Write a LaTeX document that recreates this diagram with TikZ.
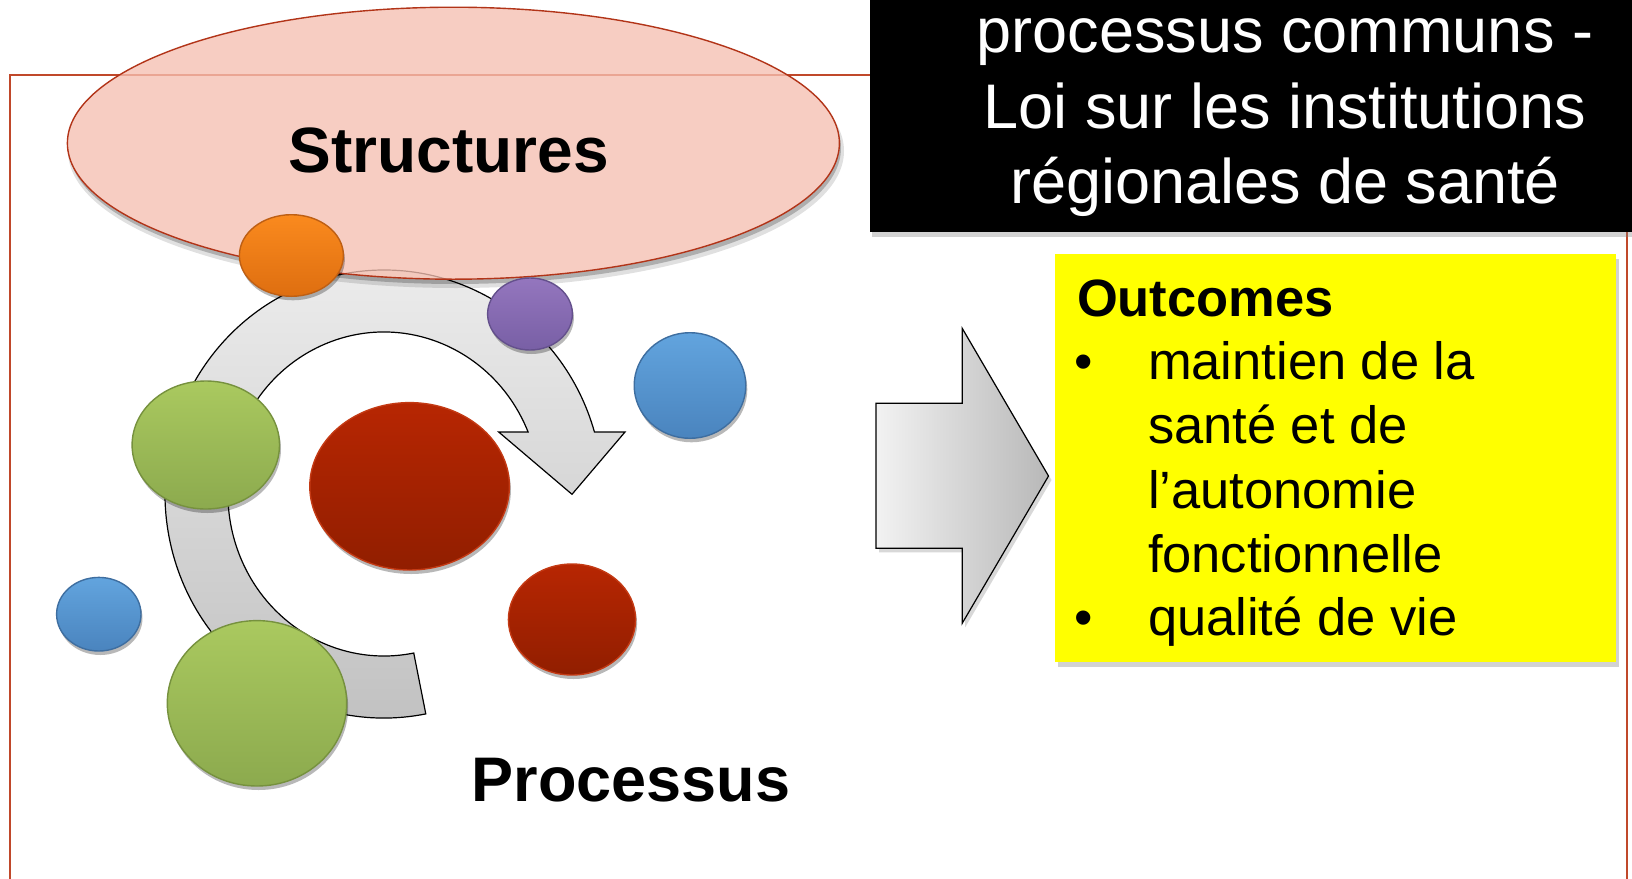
\documentclass[tikz,border=0pt]{standalone}
\usepackage{fontspec}
\setmainfont{Liberation Sans}
\usetikzlibrary{shadows}

\definecolor{frameRed}{RGB}{192,72,42}
\definecolor{ovalFill}{RGB}{246,192,177}
\definecolor{ovalLine}{RGB}{178,52,24}
\definecolor{ringTop}{RGB}{237,237,237}
\definecolor{ringBot}{RGB}{192,192,192}
\definecolor{arrLeft}{RGB}{242,242,242}
\definecolor{arrRight}{RGB}{184,184,184}
\definecolor{greenTop}{RGB}{170,201,95}
\definecolor{greenBot}{RGB}{140,170,78}
\definecolor{greenLine}{RGB}{118,145,62}
\definecolor{redTop}{RGB}{183,38,2}
\definecolor{redBot}{RGB}{145,30,0}
\definecolor{redLine}{RGB}{196,58,20}
\definecolor{blueTop}{RGB}{98,164,222}
\definecolor{blueBot}{RGB}{74,132,190}
\definecolor{blueLine}{RGB}{62,110,160}
\definecolor{orangeTop}{RGB}{250,138,30}
\definecolor{orangeBot}{RGB}{222,110,16}
\definecolor{orangeLine}{RGB}{190,95,20}
\definecolor{purpleTop}{RGB}{148,118,190}
\definecolor{purpleBot}{RGB}{120,95,165}
\definecolor{purpleLine}{RGB}{100,80,140}
\definecolor{boxYellow}{RGB}{255,255,0}

\newcommand\szf[2]{\fontsize{#1}{#2}\selectfont}

\begin{document}
\begin{tikzpicture}[x=1pt,y=1pt,
  every node/.style={inner sep=0pt,outer sep=0pt},
  softshadow/.style={drop shadow={shadow xshift=1.5pt,shadow yshift=-4pt,opacity=.28,fill=black}},
  bubble/.style={softshadow,line width=1.4pt},
  greenball/.style={bubble,top color=greenTop,bottom color=greenBot,draw=greenLine},
  redball/.style={bubble,top color=redTop,bottom color=redBot,draw=redLine},
  blueball/.style={bubble,top color=blueTop,bottom color=blueBot,draw=blueLine},
  orangeball/.style={bubble,top color=orangeTop,bottom color=orangeBot,draw=orangeLine},
  purpleball/.style={bubble,top color=purpleTop,bottom color=purpleBot,draw=purpleLine},
  headtxt/.style={anchor=base,text=white,font=\szf{63}{75}},
  itemtxt/.style={anchor=base west,font=\szf{52.5}{64}},
  bullettxt/.style={anchor=base,font=\szf{52.5}{64}},
  biglabel/.style={anchor=base,font=\bfseries\szf{64}{75}}]

\clip (0,0) rectangle (1632,-878);
\fill[white] (0,0) rectangle (1632,-878);

% outer frame
\draw[frameRed,line width=1.8pt] (10,-1000) -- (10,-75) -- (1627,-75) -- (1627,-1000);

% circular process arrow
\shade[top color=ringTop,bottom color=ringBot,draw=black,line width=1.2pt]
  (425.8,-713.9) arc[start angle=281,end angle=16.07,x radius=219,y radius=224]
  -- (625,-432) -- (572,-494.3) -- (498.7,-432) -- (528.1,-432)
  arc[start angle=22.5,end angle=281,x radius=156,y radius=162] -- cycle;

% structures oval: its shadow only outside the oval, then a translucent fill
\begin{scope}[even odd rule]
  \clip (0,0) rectangle (1632,-878)
    (453.4,-143.2) ellipse[x radius=386,y radius=136];
  \fill[black,opacity=.22] (455,-148) ellipse[x radius=386,y radius=136];
  \fill[black,opacity=.12] (456,-151) ellipse[x radius=388,y radius=137];
\end{scope}
\path[fill=ovalFill,fill opacity=.78,draw=ovalLine,line width=1.4pt]
  (453.4,-143.2) ellipse[x radius=386,y radius=136];

% bubbles
\path[greenball]  (205.8,-445)   ellipse[x radius=73.7,y radius=64];
\path[redball]    (409.6,-486.3) ellipse[x radius=99.8,y radius=83.7];
\path[redball]    (572,-619.5)   ellipse[x radius=63.6,y radius=55.5];
\path[blueball]   (98.8,-614.2)  ellipse[x radius=42.2,y radius=36.8];
\path[greenball]  (257,-703.3)   ellipse[x radius=89.7,y radius=82.7];
\path[orangeball] (291.4,-255.5) ellipse[x radius=52,y radius=40.8];
\path[purpleball] (530,-314)     ellipse[x radius=42.4,y radius=36];
\path[blueball]   (690,-385.5)   ellipse[x radius=55.8,y radius=52.8];

% title box
\fill[black,drop shadow={shadow xshift=2pt,shadow yshift=-5pt,opacity=.35}]
  (870,-232) rectangle (1660,20);
\node[headtxt] (hdA) at (1285,-52)  {processus communs -};
\node[headtxt] (hdB) at (1285,-128) {Loi sur les institutions};
\node[headtxt] (hdC) at (1285,-203) {régionales de santé};

% block arrow towards the outcomes
\shade[left color=arrLeft,right color=arrRight,draw=black,line width=1.2pt,
       drop shadow={shadow xshift=3pt,shadow yshift=-4pt,opacity=.3}]
  (876,-403.3) -- (962.2,-403.3) -- (962.2,-328.3) -- (1048.5,-476)
  -- (962.2,-623.3) -- (962.2,-548.3) -- (876,-548.3) -- cycle;

% outcomes box
\fill[boxYellow,drop shadow={shadow xshift=3pt,shadow yshift=-5pt,opacity=.35}]
  (1055,-254) rectangle (1615.6,-661.7);
\node[anchor=base west,font=\bfseries\szf{52.5}{64}] (outHead) at (1077,-316) {Outcomes};
\node[bullettxt] (bulA) at (1084,-379) {•};
\node[itemtxt] (itA) at (1148,-379) {maintien de la};
\node[itemtxt] (itB) at (1148,-443) {santé et de};
\node[itemtxt] (itC) at (1148,-508) {l’autonomie};
\node[itemtxt] (itD) at (1148,-572) {fonctionnelle};
\node[bullettxt] (bulB) at (1084,-635) {•};
\node[itemtxt] (itE) at (1148,-635) {qualité de vie};

% labels
\node[biglabel] (structLbl) at (449,-172) {Structures};
\node[biglabel,font=\bfseries\szf{63}{75}] (procLbl) at (631,-801) {Processus};

\end{tikzpicture}
\end{document}
